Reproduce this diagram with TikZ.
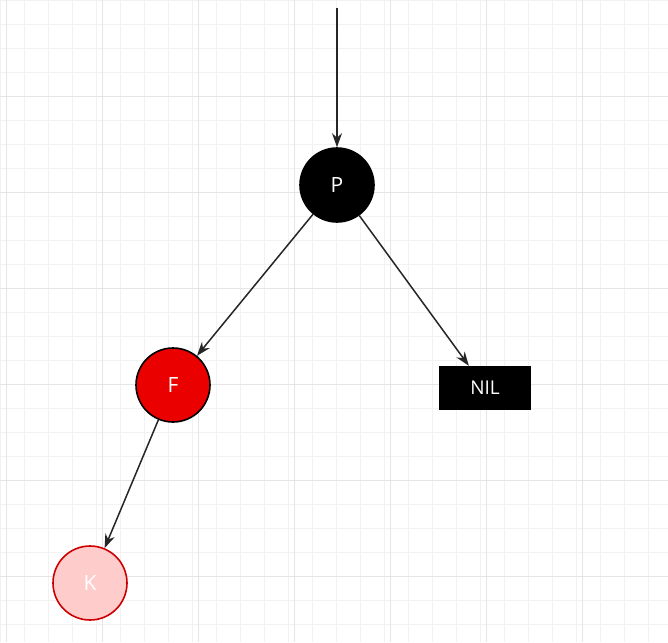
\documentclass[tikz,border=0pt]{standalone}
\usepackage{fontspec}
\setmainfont{Open Sans}
\usetikzlibrary{arrows.meta}
\begin{document}
\begin{tikzpicture}[x=1pt,y=-1pt,
  nd/.style={circle,minimum size=74pt,inner sep=0pt,draw=black,line width=1.6pt,font=\fontsize{21}{24}\selectfont,text=white},
  edge/.style={draw=black!85,line width=1.5pt,-{Stealth[length=14pt,width=10pt]}}]
\useasboundingbox (0,0) rectangle (668,642);
\fill[white] (0,0) rectangle (668,642);
\draw[black!5,line width=0.8pt] (0,0) grid[step=24pt] (668,642);
\foreach \x in {6,102,...,668} \draw[black!10,line width=1pt] (\x,0) -- (\x,642);
\foreach \y in {96,192,...,642} \draw[black!10,line width=1pt] (0,\y) -- (668,\y);
\node[nd,fill=black] (P) at (337,185) {P};
\node[nd,fill=red!92!black] (F) at (173,385) {F};
\node[nd,fill=red!20,draw=red!80!black] (K) at (90,583) {K};
\node[fill=black,minimum width=92pt,minimum height=44pt,inner sep=0pt,text=white,font=\fontsize{19}{22}\selectfont] (N) at (485,388) {NIL};
\coordinate (top) at (337,8);
\draw[edge] (top) -- (P);
\draw[edge] (P) -- (F);
\draw[edge] (P) -- (N);
\draw[edge] (F) -- (K);
\end{tikzpicture}
\end{document}
